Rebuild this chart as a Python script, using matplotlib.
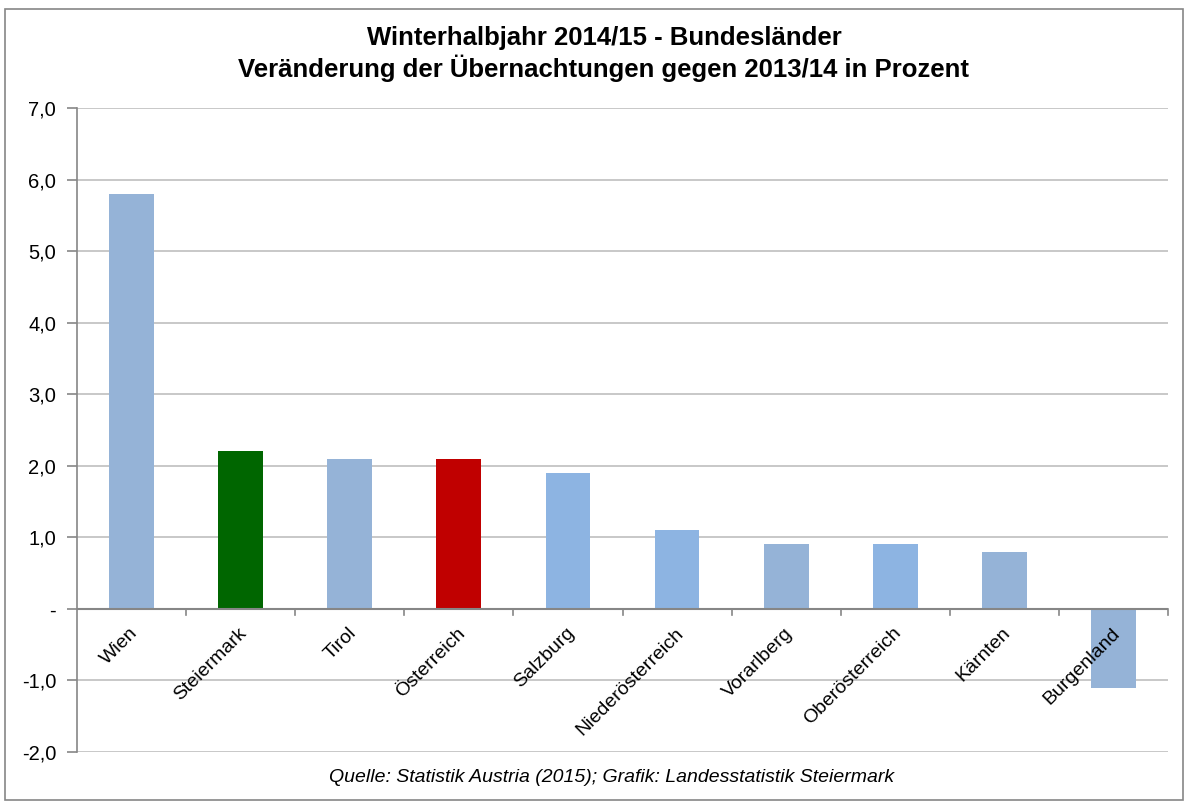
#!/usr/bin/env python3
import matplotlib

matplotlib.use('Agg')
import matplotlib.pyplot as plt
from matplotlib.patches import Rectangle

# Daten: Veraenderung der Uebernachtungen Winterhalbjahr 2014/15 gegen 2013/14
laender = ["Wien", "Steiermark", "Tirol", "Österreich", "Salzburg",
           "Niederösterreich", "Vorarlberg", "Oberösterreich", "Kärnten", "Burgenland"]
werte = [5.8, 2.2, 2.1, 2.1, 1.9, 1.1, 0.9, 0.9, 0.8, -1.1]
farben = ["#95B3D7", "#006600", "#95B3D7", "#C00000", "#8DB4E2",
          "#8DB4E2", "#95B3D7", "#8DB4E2", "#95B3D7", "#95B3D7"]
yticks = [-2, -1, 0, 1, 2, 3, 4, 5, 6, 7]
yticklabels = ["-2,0", "-1,0", "-", "1,0", "2,0", "3,0", "4,0", "5,0", "6,0", "7,0"]

plt.rcParams['font.family'] = ['Liberation Sans', 'DejaVu Sans']

fig = plt.figure(figsize=(11.87, 8.02), dpi=100)
ax = fig.add_axes([77 / 1187, 1 - 752 / 802, (1168 - 77) / 1187, (752 - 108) / 802])

x = list(range(len(laender)))
ax.bar(x, werte, width=0.41, color=farben, zorder=3)

ax.set_xlim(-0.5, len(laender) - 0.5)
ax.set_ylim(-2, 7)
ax.set_yticks(yticks)
ax.set_yticklabels(yticklabels, fontsize=14.5)
ax.yaxis.grid(True, color="#BFBFBF", linewidth=1.2, zorder=0)
ax.tick_params(axis="y", length=7, color="#868686", width=1.2, pad=8)

for side in ["top", "right", "bottom"]:
    ax.spines[side].set_visible(False)
ax.spines["left"].set_color("#868686")
ax.spines["left"].set_linewidth(1.2)

# x-Achse auf Nulllinie mit Strichen zwischen Kategorien
ax.axhline(0, color="#868686", linewidth=1.5, zorder=4)
ax.set_xticks([])
for i in range(1, len(laender) + 1):
    ax.plot([i - 0.5, i - 0.5], [0, -0.08], color="#868686", linewidth=1.2,
            clip_on=False, zorder=4)

for i, name in enumerate(laender):
    ax.text(i - 0.02, -0.22, name, rotation=45, ha="right", va="top",
            rotation_mode="anchor", fontsize=14, zorder=5)

fig.text(604 / 1187, 1 - 38 / 802, "Winterhalbjahr 2014/15 - Bundesländer",
         ha="center", va="center", fontsize=18.5, fontweight="bold")
fig.text(604 / 1187, 1 - 68 / 802, "Veränderung der Übernachtungen gegen 2013/14 in Prozent",
         ha="center", va="center", fontsize=18.5, fontweight="bold")
fig.text(612 / 1187, 1 - 778 / 802,
         "Quelle: Statistik Austria (2015); Grafik: Landesstatistik Steiermark",
         ha="center", va="center", fontsize=14, style="italic")

fig.patches.append(Rectangle((5 / 1187, 2 / 802), 1178 / 1187, 791 / 802,
                             transform=fig.transFigure, fill=False,
                             edgecolor="#868686", linewidth=1.2))

plt.savefig("out.png", dpi=100)
plt.close()
